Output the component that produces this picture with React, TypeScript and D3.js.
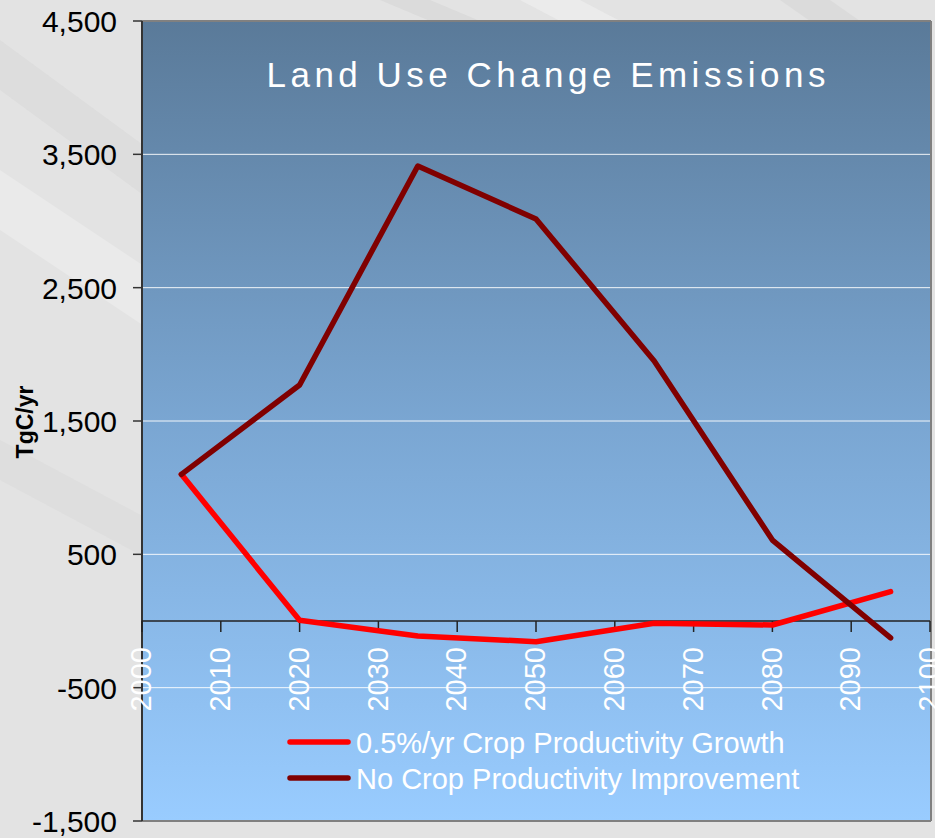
import React from "react";
import * as d3 from "d3";

const years = [2005, 2020, 2035, 2050, 2065, 2080, 2095];
const growthSeries = [1100, 5, -112, -155, -17, -30, 220];
const noImprovementSeries = [1100, 1770, 3412, 3015, 1950, 607, -127];
const yTicks = [4500, 3500, 2500, 1500, 500, -500, -1500];
const gridValues = [3500, 2500, 1500, 500, -500];
const xTicks = [2000, 2010, 2020, 2030, 2040, 2050, 2060, 2070, 2080, 2090, 2100];
const seriesNames = ["0.5%/yr Crop Productivity Growth", "No Crop Productivity Improvement"];
const seriesColors = ["#ff0000", "#800000"];
const titleText = "Land Use Change Emissions";
const yTitle = "TgC/yr";

const W = 935;
const H = 838;
const L = 142, R = 930, T = 21, B = 821;

export default function App() {
  const x = d3.scaleLinear().domain([2000, 2100]).range([L, R]);
  const y = d3.scaleLinear().domain([-1500, 4500]).range([B, T]);
  const line = d3
    .line<number>()
    .x((_, i) => x(years[i]))
    .y((d) => y(d));
  const fmt = (v: number) => d3.format(",")(v).replace("\u2212", "-");
  const series = [growthSeries, noImprovementSeries];

  return (
    <svg
      width={W}
      height={H}
      style={{ position: "absolute", left: 0, top: 0, fontFamily: "Arial, 'Liberation Sans', sans-serif" }}
    >
      <defs>
        <linearGradient id="plotbg" x1="0" y1="0" x2="0" y2="1">
          <stop offset="0" stopColor="#5a7a99" />
          <stop offset="0.5" stopColor="#7aa6d2" />
          <stop offset="1" stopColor="#99ccff" />
        </linearGradient>
      </defs>
      <rect x={0} y={0} width={W} height={H} fill="#e3e3e3" />
      <polygon points="0,40 0,90 150,200 150,150" fill="#d8d8d8" opacity={0.6} />
      <polygon points="0,170 0,230 150,330 150,270" fill="#eeeeee" opacity={0.6} />
      <polygon points="0,440 0,480 150,560 150,520" fill="#d9d9d9" opacity={0.5} />
      <polygon points="380,0 430,0 480,21 430,21" fill="#d5d5d5" opacity={0.6} />
      <polygon points="520,0 580,0 620,21 560,21" fill="#f0f0f0" opacity={0.6} />
      <polygon points="780,0 830,0 860,21 810,21" fill="#d5d5d5" opacity={0.6} />

      <rect x={L} y={T} width={R - L} height={B - T} fill="url(#plotbg)" />

      {gridValues.map((v) => (
        <line key={v} x1={L} x2={R} y1={y(v)} y2={y(v)} stroke="#ffffff" strokeWidth={1} opacity={0.9} />
      ))}

      <line x1={L} x2={R + 1} y1={T} y2={T} stroke="#808080" strokeWidth={2} />
      <line x1={R + 1} x2={R + 1} y1={T} y2={B} stroke="#808080" strokeWidth={2} />
      <line x1={L} x2={R + 1} y1={B} y2={B} stroke="#808080" strokeWidth={2} />

      <line x1={L} x2={L} y1={T} y2={B} stroke="#333" strokeWidth={2} />
      {yTicks.map((v) => (
        <g key={v}>
          <line x1={L - 9} x2={L} y1={y(v)} y2={y(v)} stroke="#333" strokeWidth={1.5} />
          <text x={117} y={y(v) + 11} textAnchor="end" fontSize={30} fill="#000">
            {fmt(v)}
          </text>
        </g>
      ))}
      <text
        transform={`translate(33, 422) rotate(-90)`}
        textAnchor="middle"
        fontSize={23}
        fontWeight="bold"
        fill="#000"
      >
        {yTitle}
      </text>

      <line x1={L} x2={R} y1={y(0)} y2={y(0)} stroke="#222" strokeWidth={1.5} />
      {xTicks.map((t) => (
        <g key={t}>
          <line x1={x(t)} x2={x(t)} y1={y(0)} y2={y(0) + 11} stroke="#222" strokeWidth={1.5} />
          <text
            transform={`translate(${x(t)}, 647) rotate(-90)`}
            textAnchor="end"
            dy="0.32em"
            fontSize={29}
            fill="#ffffff"
          >
            {t}
          </text>
        </g>
      ))}

      <text
        x={546}
        y={87}
        textAnchor="middle"
        fontSize={35}
        fill="#ffffff"
        textLength={559}
        lengthAdjust="spacing"
      >
        {titleText}
      </text>

      {series.map((s, i) => (
        <path
          key={i}
          d={line(s) || ""}
          fill="none"
          stroke={seriesColors[i]}
          strokeWidth={5.5}
          strokeLinejoin="round"
          strokeLinecap="round"
        />
      ))}

      {seriesNames.map((n, i) => (
        <g key={n}>
          <line
            x1={290}
            x2={348}
            y1={742 + i * 36}
            y2={742 + i * 36}
            stroke={seriesColors[i]}
            strokeWidth={5.5}
            strokeLinecap="round"
          />
          <text x={356} y={753 + i * 36} fontSize={29} fill="#ffffff">
            {n}
          </text>
        </g>
      ))}
    </svg>
  );
}
